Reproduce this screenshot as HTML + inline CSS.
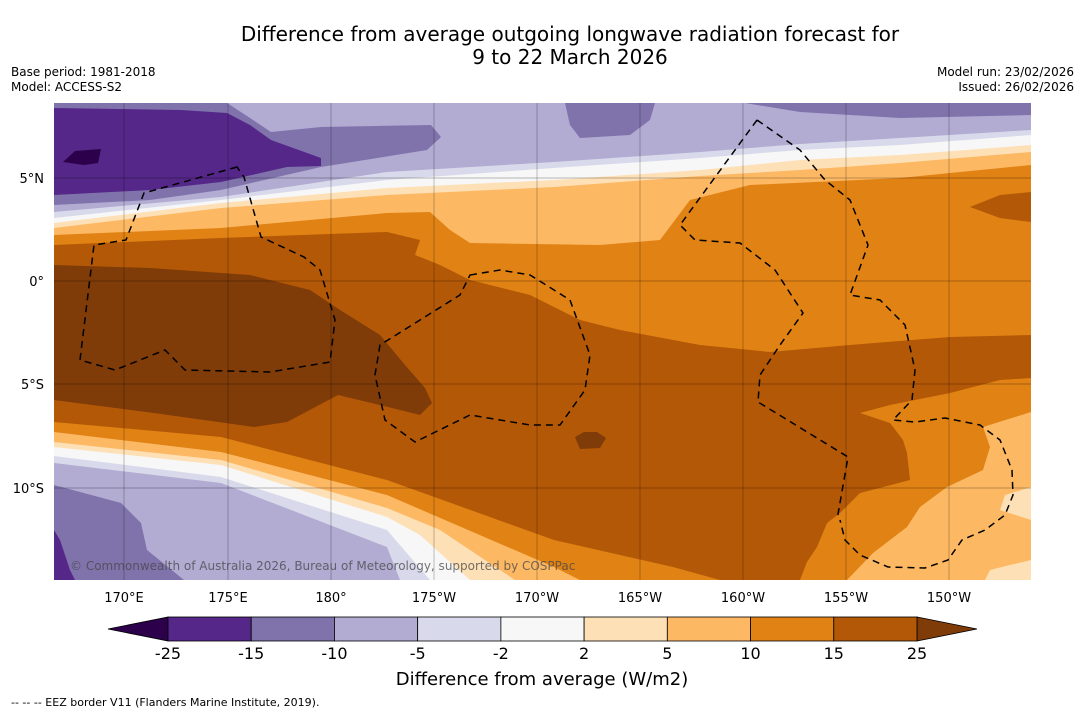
<!DOCTYPE html>
<html><head><meta charset="utf-8"><style>
body{margin:0;background:#fff;width:1085px;height:713px;overflow:hidden;font-family:"DejaVu Sans","Liberation Sans",sans-serif}
svg{position:absolute;left:0;top:0;font-family:"DejaVu Sans","Liberation Sans",sans-serif}
</style></head><body>
<svg width="1085" height="713" viewBox="0 0 1085 713">
<text x="570" y="41" font-size="20" text-anchor="middle">Difference from average outgoing longwave radiation forecast for</text>
<text x="570" y="64" font-size="20" text-anchor="middle">9 to 22 March 2026</text>
<text x="11" y="76" font-size="12">Base period: 1981-2018</text>
<text x="11" y="91" font-size="12">Model: ACCESS-S2</text>
<text x="1074" y="76" font-size="12" text-anchor="end">Model run: 23/02/2026</text>
<text x="1074" y="91" font-size="12" text-anchor="end">Issued: 26/02/2026</text>
<defs><clipPath id="mc"><rect x="54" y="103" width="977" height="477"/></clipPath></defs>
<g clip-path="url(#mc)" stroke="none">
<rect x="54" y="103" width="977" height="477" fill="#e08214"/>
<path fill="#fdb863" d="M54,103 L1031,103 L1031,165 L900,178 L750,185 L690,200 L660,240 L600,245 L470,243 L450,230 L430,212 L387,213 L221,228 L54,235 Z"/>
<path fill="#fee0b6" d="M54,103 L1031,103 L1031,152 L900,163 L800,170 L700,176 L554,187 L387,195 L221,208 L54,228 Z"/>
<path fill="#f7f7f7" d="M54,103 L1031,103 L1031,145 L900,155 L800,160 L700,170 L554,180 L387,188 L221,203 L54,223 Z"/>
<path fill="#d8daeb" d="M54,103 L1031,103 L1031,135 L900,145 L800,150 L700,158 L554,168 L387,180 L221,200 L54,218 Z"/>
<path fill="#b2abd2" d="M54,103 L1031,103 L1031,130 L900,138 L800,144 L700,152 L554,162 L387,172 L221,197 L54,212 Z"/>
<path fill="#8073ac" d="M54,103 L227,103 L250,118 L271,132 L321,127 L431,125 L441,137 L427,150 L321,167 L221,190 L150,200 L54,205 Z"/>
<path fill="#8073ac" d="M565,103 L655,103 L650,120 L630,135 L580,138 L570,125 Z"/>
<path fill="#8073ac" d="M745,103 L1031,103 L1031,115 L900,118 L800,112 Z"/>
<path fill="#542788" d="M54,108 L181,110 L227,113 L250,125 L271,140 L321,158 L321,166 L287,167 L221,182 L150,190 L54,195 Z"/>
<path fill="#2d004b" d="M63,162 L75,151 L101,149 L98,163 L84,165 Z"/>
<path fill="#b35806" d="M54,245 L221,238 L387,232 L420,240 L415,255 L440,265 L470,280 L530,295 L580,320 L620,330 L700,345 L770,352 L850,345 L950,337 L1031,335 L1031,378 L1000,380 L950,393 L890,405 L860,413 L890,423 L903,440 L907,453 L910,480 L860,493 L840,513 L827,523 L817,547 L807,562 L800,580 L54,580 Z"/>
<path fill="#b35806" d="M970,207 L1000,195 L1031,192 L1031,222 L1000,218 Z"/>
<path fill="#7f3b08" d="M54,265 L150,268 L250,275 L310,290 L340,310 L380,335 L405,365 L425,388 L432,403 L420,415 L388,407 L338,395 L287,422 L254,427 L154,413 L54,400 Z"/>
<path fill="#7f3b08" d="M575,437 L584,432 L597,432 L606,438 L600,448 L580,449 Z"/>
<path fill="#e08214" d="M54,422 L221,437 L387,480 L554,540 L673,567 L720,580 L54,580 Z"/>
<path fill="#fdb863" d="M54,432 L221,452 L387,495 L554,567 L580,580 L54,580 Z"/>
<path fill="#fdb863" d="M1031,412 L983,427 L990,447 L983,470 L947,487 L920,507 L907,527 L873,553 L847,580 L1031,580 Z"/>
<path fill="#fee0b6" d="M1031,487 L1005,495 L1000,510 L1031,520 Z"/>
<path fill="#fee0b6" d="M985,580 L990,570 L1010,565 L1031,560 L1031,580 Z"/>
<path fill="#fee0b6" d="M54,442 L221,460 L387,508 L440,530 L500,570 L515,580 L54,580 Z"/>
<path fill="#f7f7f7" d="M54,447 L221,465 L387,517 L420,535 L470,580 L54,580 Z"/>
<path fill="#d8daeb" d="M54,456 L221,477 L387,530 L430,580 L54,580 Z"/>
<path fill="#b2abd2" d="M54,463 L221,483 L387,547 L400,580 L54,580 Z"/>
<path fill="#8073ac" d="M54,485 L121,503 L141,523 L147,550 L184,580 L54,580 Z"/>
<path fill="#542788" d="M54,530 L60,540 L70,570 L75,580 L54,580 Z"/>
<g stroke="rgba(0,0,0,0.35)" stroke-width="0.7" fill="none">
<path d="M124,103V580M228,103V580M331,103V580M434,103V580M537,103V580M640,103V580M743,103V580M846,103V580M949,103V580"/>
<path d="M54,178H1031M54,281H1031M54,384H1031M54,488H1031"/>
</g>
<g stroke="#000" stroke-width="1.5" fill="none" stroke-dasharray="7,5">
<path d="M237,167 L144,193 L126,240 L94,245 L80,360 L115,370 L165,350 L185,370 L270,372 L330,362 L335,320 L320,270 L304,257 L261,237 L244,177 Z"/>
<path d="M470,275 L500,270 L530,275 L570,300 L590,355 L585,390 L560,425 L530,425 L470,415 L415,442 L385,420 L375,375 L380,345 L420,320 L460,295 Z"/>
<path d="M757,120 L680,225 L695,240 L740,243 L775,270 L803,313 L780,345 L760,375 L758,402 L848,457 L837,520 M757,120 L800,150 L825,180 L850,200 L868,245 L850,295 L880,300 L905,325 L915,370 L912,400 L893,420 L915,422 L945,418 L980,425 L1000,440 L1012,470 L1013,495 L1005,515 L985,530 L962,540 L948,560 L925,568 L888,567 L860,555 L845,540 L840,520"/>
</g>
<text x="70" y="570" font-size="12" fill="rgba(70,70,70,0.75)">© Commonwealth of Australia 2026, Bureau of Meteorology, supported by COSPPac</text>
</g>
<g font-size="13" text-anchor="end">
<text x="44" y="183">5°N</text><text x="44" y="286">0°</text><text x="44" y="389">5°S</text><text x="44" y="493">10°S</text>
</g>
<g font-size="13" text-anchor="middle">
<text x="124" y="602">170°E</text><text x="228" y="602">175°E</text><text x="331" y="602">180°</text><text x="434" y="602">175°W</text><text x="537" y="602">170°W</text><text x="640" y="602">165°W</text><text x="743" y="602">160°W</text><text x="846" y="602">155°W</text><text x="949" y="602">150°W</text>
</g>
<g id="cbar"></g>
<text x="542" y="685" font-size="18" text-anchor="middle">Difference from average (W/m2)</text>
<text x="11" y="706" font-size="11">--  --  -- EEZ border V11 (Flanders Marine Institute, 2019).</text>
</svg>
<script>
const levels = ["-25","-15","-10","-5","-2","2","5","10","15","25"];
const binColors = ["#542788","#8073ac","#b2abd2","#d8daeb","#f7f7f7","#fee0b6","#fdb863","#e08214","#b35806"];
const extendColors = ["#2d004b","#7f3b08"];
const NS="http://www.w3.org/2000/svg";
const g=document.getElementById('cbar');
const x0=168,x1=917,y0=617,h=24;
const w=(x1-x0)/binColors.length;
function xs(i){return x0+i*w;}
const lt=document.createElementNS(NS,'polygon');
lt.setAttribute('points',`${x0},${y0} ${x0},${y0+h} 108,${y0+h/2}`);
lt.setAttribute('fill',extendColors[0]);lt.setAttribute('stroke','#000');lt.setAttribute('stroke-width','0.8');


g.appendChild(lt);
const rt=document.createElementNS(NS,'polygon');
rt.setAttribute('points',`${x1},${y0} ${x1},${y0+h} 977,${y0+h/2}`);
rt.setAttribute('fill',extendColors[1]);rt.setAttribute('stroke','#000');rt.setAttribute('stroke-width','0.8');


g.appendChild(rt);
binColors.forEach((c,i)=>{
  const r=document.createElementNS(NS,'rect');
  r.setAttribute('x',xs(i));r.setAttribute('y',y0);r.setAttribute('width',w);r.setAttribute('height',h);
  r.setAttribute('fill',c);r.setAttribute('stroke','#000');r.setAttribute('stroke-width','0.8');
  
  
  g.appendChild(r);
});
levels.forEach((l,i)=>{
  const t=document.createElementNS(NS,'text');
  t.setAttribute('x',xs(i));t.setAttribute('y',659);t.setAttribute('font-size','16');t.setAttribute('text-anchor','middle');
  t.textContent=l;
  
  
  g.appendChild(t);
});
</script>
</body></html>
